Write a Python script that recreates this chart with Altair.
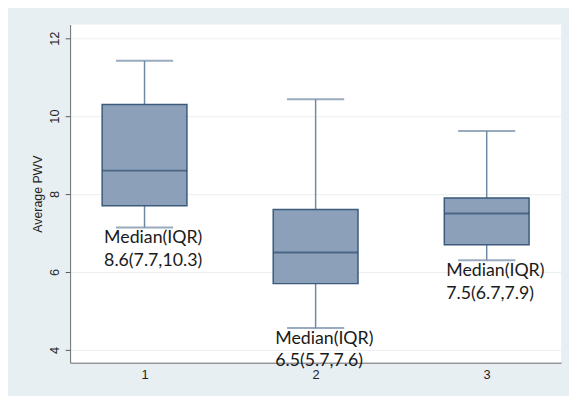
import altair as alt
import pandas as pd

groups = ["1", "2", "3"]
whisker_low = [7.14, 4.56, 6.30]
q1 = [7.7, 5.7, 6.7]
median = [8.6, 6.5, 7.5]
q3 = [10.3, 7.6, 7.9]
whisker_high = [11.42, 10.43, 9.62]
y_ticks = [4, 6, 8, 10, 12]

df = pd.DataFrame({
    "group": groups,
    "lo": whisker_low,
    "q1": q1,
    "med": median,
    "q3": q3,
    "hi": whisker_high,
})
df["label"] = [
    f"Median(IQR)\n{m}({a},{b})" for m, a, b in zip(median, q1, q3)
]

xscale = alt.Scale(type="point", padding=0.435)
yscale = alt.Scale(domain=[3.67, 12.35], nice=False, zero=False)

x_enc = alt.X("group:N", scale=xscale, sort=groups,
              axis=alt.Axis(title=None, labelAngle=0, ticks=False, domain=True,
                            domainColor="#6b6b6b", labelFontSize=13,
                            labelColor="#222222", labelPadding=6,
                            labelFont="Liberation Sans", grid=False))
y_axis = alt.Axis(title="Average PWV", values=y_ticks, labelAngle=270,
                  labelAlign="center", labelBaseline="bottom",
                  labelFontSize=13, labelColor="#222222",
                  labelFont="Liberation Sans", labelPadding=4,
                  tickSize=5, tickColor="#555555", domainColor="#6b6b6b",
                  titleFont="Liberation Sans", titleFontSize=12.5,
                  titleFontWeight="normal", titleColor="#222222",
                  titlePadding=4, gridColor="#eceff1", grid=True)

base = alt.Chart(df)

whisk = base.mark_rule(color="#6f88a4", strokeWidth=1.5).encode(
    x=x_enc,
    y=alt.Y("lo:Q", scale=yscale, axis=y_axis),
    y2="hi:Q",
)
caps_lo = base.mark_tick(color="#6f88a4", size=58, thickness=2,
                         orient="horizontal").encode(x=x_enc, y="lo:Q")
caps_hi = base.mark_tick(color="#6f88a4", size=58, thickness=2,
                         orient="horizontal").encode(x=x_enc, y="hi:Q")
box = base.mark_bar(size=86, color="#8ca1b9", stroke="#3b5a7c",
                    strokeWidth=1.5).encode(x=x_enc, y="q1:Q", y2="q3:Q")
med = base.mark_tick(color="#2f4d70", size=86, thickness=2,
                     orient="horizontal").encode(x=x_enc, y="med:Q")
labels = base.mark_text(align="left", baseline="alphabetic", dx=-41, dy=16,
                        lineBreak="\n", lineHeight=23, fontSize=18,
                        font="Lato", color="#1a1a1a").encode(
    x=x_enc, y="lo:Q", text="label:N")

chart = alt.layer(whisk, caps_lo, caps_hi, box, med, labels).properties(
    width=498, height=343,
    autosize=alt.AutoSizeParams(type="none"),
    padding={"left": 63, "top": 14, "right": 8, "bottom": 31},
    background="#e8eff3",
).configure_view(fill="white", stroke=None)

chart.save("out.html", embed_options={"renderer": "svg", "actions": False})
